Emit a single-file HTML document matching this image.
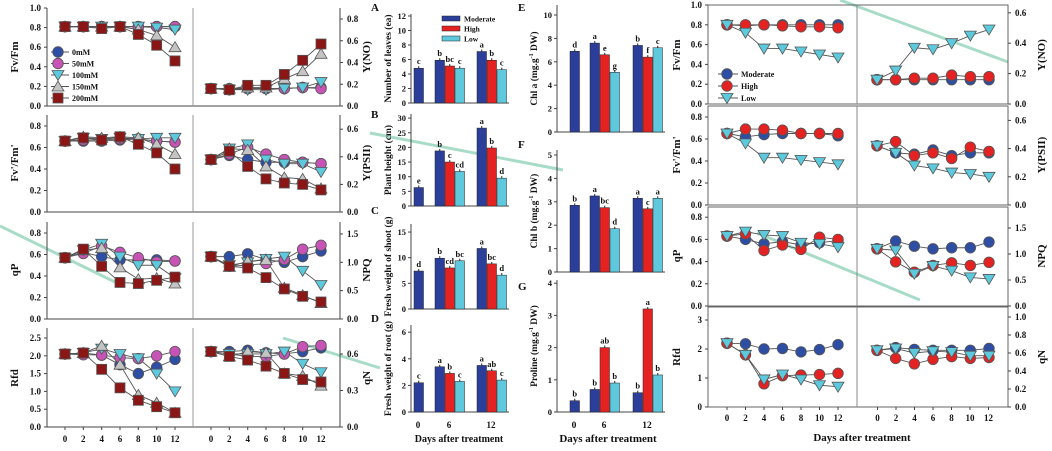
<!DOCTYPE html>
<html><head><meta charset="utf-8"><style>
body{margin:0;background:#fff;}
svg text{font-family:"Liberation Serif",serif;font-weight:bold;fill:#111;}
</style></head><body>
<svg id="s" width="1052" height="446" viewBox="0 0 1052 446" xmlns="http://www.w3.org/2000/svg"></svg>
<script>
var S=document.getElementById('s'),h='';
function T(x,y,t,sz,anc,rot){h+='<text x="'+x+'" y="'+y+'" font-size="'+(sz||9)+'" text-anchor="'+(anc||'middle')+'"'+(rot?' transform="rotate('+rot+' '+x+' '+y+')"':'')+'>'+t+'</text>';}
function L(a,b,c,d,col,w){h+='<line x1="'+a+'" y1="'+b+'" x2="'+c+'" y2="'+d+'" stroke="'+(col||'#444')+'" stroke-width="'+(w||1)+'"/>';}
function mk(t,x,y,col){var st=' fill="'+col+'" stroke="#555" stroke-width="0.8"';
 if(t=='c')h+='<circle cx="'+x+'" cy="'+y+'" r="5.3"'+st+'/>';
 else if(t=='s')h+='<rect x="'+(x-5)+'" y="'+(y-5)+'" width="10" height="10"'+st+'/>';
 else if(t=='d')h+='<polygon points="'+(x-6)+','+(y-4.5)+' '+(x+6)+','+(y-4.5)+' '+x+','+(y+5.5)+'"'+st+'/>';
 else h+='<polygon points="'+(x-6)+','+(y+4.5)+' '+(x+6)+','+(y+4.5)+' '+x+','+(y-5.5)+'"'+st+'/>';}
function chart(x0,x12,y0,k,data,ser){
 data.forEach(function(d,i){var p=d.map(function(v,j){return (x0+(x12-x0)*j/6)+','+(y0-v*k)}).join(' ');
  h+='<polyline points="'+p+'" fill="none" stroke="#555" stroke-width="0.9"/>';});
 data.forEach(function(d,i){d.forEach(function(v,j){mk(ser[i][0],x0+(x12-x0)*j/6,y0-v*k,ser[i][1]);});});}
function ticks(x,y0,k,vals,side,dec){vals.forEach(function(v){var y=y0-v*k;
 if(side=='l'){L(x,y,x-3,y);T(x-6,y+3,v.toFixed(dec),9,'end');}else{L(x,y,x+3,y);T(x+7,y+3,v.toFixed(dec),9,'start');}});}
// watermark lines (behind)
L(0,226,115,282,'#a8dcc8',3);L(370,133,563,170,'#a8dcc8',3);L(840,0,1008,62,'#a8dcc8',3);L(757,233,920,300,'#a8dcc8',3);L(283,338,380,368,'#a8dcc8',3);
// LEFT PANEL
var s5=[['c','#2e4ea3'],['c','#c653b5'],['d','#5cc9dc'],['u','#c4c4c4'],['s','#8a1616']];
var rows=[[8,106],[115,212],[222,319],[328,427]];
rows.forEach(function(r){L(47,r[0],47,r[1]);L(340,r[0],340,r[1]);L(47,r[1],340,r[1]);L(193,r[0],193,r[1],'#999');});
[65,83.3,101.7,120,138.3,156.7,175].forEach(function(x,i){L(x,427,x,430);T(x,442,i*2,9);L(x+146,427,x+146,430);T(x+146,442,i*2,9);});
ticks(47,106,98,[0,.2,.4,.6,.8,1],'l',1);ticks(340,106,108.75,[0,.2,.4,.6,.8],'r',1);
ticks(47,212,107.5,[0,.2,.4,.6,.8],'l',1);ticks(340,212,138,[0,.2,.4,.6],'r',1);
ticks(47,319,107.5,[0,.2,.4,.6,.8],'l',1);ticks(340,319,56.7,[0,.5,1,1.5],'r',1);
ticks(47,427,35.6,[0,.5,1,1.5,2,2.5],'l',1);ticks(340,427,121.7,[0,.3,.6],'r',1);
T(18,57,'Fv/Fm',11,'middle',-90);T(18,163,"Fv'/Fm'",11,'middle',-90);T(18,270,'qP',11,'middle',-90);T(18,378,'Rfd',11,'middle',-90);
T(370,57,'Y(NO)',11,'middle',-90);T(370,163,'Y(PSII)',11,'middle',-90);T(370,270,'NPQ',11,'middle',-90);T(370,378,'qN',11,'middle',-90);
chart(65,175,106,98,[[.81,.81,.81,.81,.81,.81,.81],[.81,.81,.81,.81,.81,.81,.81],[.81,.81,.81,.81,.81,.80,.78],[.81,.81,.81,.81,.78,.72,.60],[.81,.81,.79,.81,.73,.62,.46]],s5);
chart(211,321,106,108.75,[[.16,.15,.16,.16,.16,.17,.17],[.16,.16,.16,.16,.16,.17,.16],[.16,.15,.15,.15,.16,.17,.22],[.16,.16,.17,.17,.25,.32,.48],[.16,.15,.19,.19,.29,.42,.57]],s5);
chart(65,175,212,107.5,[[.66,.66,.66,.67,.68,.66,.65],[.66,.67,.67,.68,.68,.66,.65],[.66,.69,.68,.69,.68,.69,.69],[.66,.70,.69,.70,.69,.63,.54],[.66,.69,.67,.70,.63,.55,.40]],s5);
chart(211,321,212,138,[[.38,.41,.38,.36,.36,.36,.35],[.38,.42,.47,.42,.38,.36,.35],[.38,.46,.49,.38,.35,.35,.29],[.38,.46,.45,.33,.25,.24,.17],[.38,.44,.33,.24,.21,.20,.16]],s5);
chart(65,175,319,107.5,[[.57,.62,.58,.55,.55,.55,.54],[.57,.61,.68,.62,.57,.53,.54],[.57,.64,.70,.58,.50,.50,.38],[.57,.64,.66,.48,.37,.38,.33],[.57,.65,.49,.34,.33,.36,.39]],s5);
chart(211,321,319,56.7,[[1.1,1.1,1.15,1.05,1.0,1.1,1.2],[1.1,.93,.95,.98,1.05,1.23,1.3],[1.1,.95,1.0,1.06,1.1,.85,.6],[1.1,.92,1.02,1.04,.55,.42,.28],[1.1,.93,.9,.73,.53,.4,.3]],s5);
chart(65,175,427,35.6,[[2.05,2.08,2.02,1.75,1.5,1.68,1.9],[2.05,2.03,2.02,1.95,1.92,2.0,2.12],[2.05,2.08,2.2,2.05,1.93,1.5,1.0],[2.05,2.08,2.28,1.75,.9,.68,.4],[2.05,2.08,1.62,1.1,.75,.57,.4]],s5);
chart(211,321,427,121.7,[[.62,.62,.63,.61,.6,.62,.65],[.62,.6,.58,.58,.6,.66,.67],[.62,.6,.6,.6,.62,.52,.45],[.62,.58,.62,.61,.44,.42,.34],[.62,.58,.55,.5,.44,.39,.37]],s5);
['0mM','50mM','100mM','150mM','200mM'].forEach(function(n,i){var y=52+i*11.5;L(51,y,69,y,'#555');mk(s5[i][0],58,y,s5[i][1]);T(72,y+3,n,8,'start');});
// BAR CHARTS
var C=['#2b3f9a','#e42222','#5ec8dc'];
function bars(ax,y0,top,k,tv,dec,xs,vals,lets,lab,title,tl){
 L(ax,top,ax,y0);L(ax,y0,ax+(xs[xs.length-1]+12-ax),y0);
 tv.forEach(function(v){var y=y0-v*k;L(ax,y,ax-3,y);T(ax-5,y+3,v,8.5,'end');});
 var ci=[0,0,1,2,0,1,2];
 xs.forEach(function(x,i){var hh=vals[i]*k;h+='<rect x="'+x+'" y="'+(y0-hh)+'" width="9.5" height="'+hh+'" fill="'+C[ci[i]]+'" stroke="#222" stroke-width="0.5"/>';
  L(x+4.75,y0-hh,x+4.75,y0-hh-2,'#222');T(x+4.75,y0-hh-4,lets[i],8.5);});
 T(ax-20,(y0+top)/2,lab,9.5,'middle',-90);T(tl[0],tl[1],title,11,'start');}
var xa=[414,435,445,455,477,487,497];
bars(411,103,14,7.25,[0,2,4,6,8,10,12],0,xa,[4.8,5.9,5.1,4.8,7.1,5.9,4.6],['c','b','bc','c','a','b','c'],'Number of leaves (ea)','A',[371,11]);
bars(411,206,114,2.93,[0,5,10,15,20,25,30],0,xa,[6.3,18.8,15,11.8,26.6,19.8,9.5],['e','b','c','cd','a','b','d'],'Plant height (cm)','B',[371,118]);
bars(411,309,224,5.13,[0,5,10,15],0,xa,[7.4,9.9,8.0,9.4,11.8,8.8,6.6],['d','b','cd','bc','a','bc','d'],'Fresh weight of shoot (g)','C',[371,214]);
bars(411,412,325,13.3,[0,2,4,6],0,xa,[2.2,3.4,2.9,2.3,3.5,3.1,2.4],['c','a','b','c','a','ab','c'],'Fresh weight of root (g)','D',[371,322]);
[[418,'0'],[449,'6'],[491,'12']].forEach(function(a){T(a[0],428,a[1],9);});T(459,442,'Days after treatment',10);
var xe=[570,590,600,610,633,643,653];
bars(557,132,5,11.7,[0,2,4,6,8,10],0,xe,[6.9,7.6,6.6,5.1,7.4,6.4,7.2],['d','a','e','g','b','f','c'],'Chl a (mg.g<tspan font-size="6" dy="-4">-1</tspan><tspan dy="4"> DW)</tspan>','E',[518,11]);
bars(557,272,150,23.4,[0,1,2,3,4,5],0,xe,[2.85,3.25,2.75,1.85,3.15,2.7,3.15],['b','a','bc','d','a','c','a'],'Chl b (mg.g<tspan font-size="6" dy="-4">-1</tspan><tspan dy="4"> DW)</tspan>','F',[518,148]);
bars(557,412,280,32.2,[0,1,2,3,4],0,xe,[.35,.7,2.0,.9,.6,3.2,1.15],['b','b','ab','b','b','a','b'],'Proline (mg.g<tspan font-size="6" dy="-4">-1</tspan><tspan dy="4"> DW)</tspan>','G',[518,290]);
[[574,'0'],[604,'6'],[647,'12']].forEach(function(a){T(a[0],428,a[1],9.5);});T(608,442,'Days after treatment',11);
['Moderate','High','Low'].forEach(function(n,i){var y=19+i*10;h+='<rect x="442" y="'+(y-3)+'" width="18" height="5" fill="'+C[i]+'" stroke="#222" stroke-width="0.5"/>';T(464,y+2.5,n,7.5,'start');});
// RIGHT PANEL
var s3=[['c','#2e4ea3'],['c','#e42222'],['d','#5cc9dc']];
[[5,104],[106,205],[207,306],[307,407]].forEach(function(r){h+='<rect x="708" y="'+r[0]+'" width="300" height="'+(r[1]-r[0])+'" fill="none" stroke="#666" stroke-width="1"/>';L(857,r[0],857,r[1],'#888');});
[727,745.5,764,782.5,801,819.5,838].forEach(function(x,i){L(x,407,x,410);T(x,421,i*2,9);L(x+150.5,407,x+150.5,410);T(x+150.5,421,i*2,9);});
T(862,441,'Days after treatment',11);
ticks(708,104,99,[0,.2,.4,.6,.8,1],'l',1);ticks(1008,104,152,[0,.2,.4,.6],'r',1);
ticks(708,205,110,[0,.2,.4,.6,.8],'l',1);ticks(1008,205,141,[0,.2,.4,.6],'r',1);
ticks(708,306,111,[0,.2,.4,.6,.8],'l',1);ticks(1008,306,52,[0,.5,1,1.5],'r',1);
ticks(708,407,29,[0,1,2,3],'l',0);ticks(1008,407,90,[0,.2,.4,.6,.8,1],'r',1);
T(680,55,'Fv/Fm',11,'middle',-90);T(680,155,"Fv'/Fm'",11,'middle',-90);T(680,256,'qP',11,'middle',-90);T(680,357,'Rfd',11,'middle',-90);
T(1045,55,'Y(NO)',11,'middle',-90);T(1045,155,'Y(PSII)',11,'middle',-90);T(1045,256,'NPQ',11,'middle',-90);T(1045,357,'qN',11,'middle',-90);
chart(727,838,104,99,[[.8,.79,.8,.8,.8,.8,.8],[.8,.8,.8,.79,.78,.78,.77],[.8,.72,.56,.56,.53,.5,.47]],s3);
chart(877,989,104,152,[[.16,.16,.16,.16,.16,.16,.16],[.16,.16,.17,.17,.19,.18,.18],[.16,.22,.37,.36,.4,.45,.49]],s3);
chart(727,838,205,110,[[.65,.62,.64,.65,.65,.65,.63],[.65,.69,.69,.68,.65,.65,.65],[.65,.56,.43,.43,.41,.39,.37]],s3);
chart(877,989,205,141,[[.42,.37,.36,.39,.35,.37,.37],[.42,.45,.35,.37,.33,.41,.38],[.42,.37,.28,.26,.23,.22,.2]],s3);
chart(727,838,306,111,[[.63,.6,.56,.58,.55,.57,.59],[.63,.65,.5,.55,.51,.62,.6],[.63,.67,.64,.63,.57,.56,.53]],s3);
chart(877,989,306,52,[[1.1,1.25,1.15,1.1,1.12,1.12,1.23],[1.1,.85,.65,.78,.83,.78,.84],[1.1,1.07,.62,.77,.68,.55,.52]],s3);
chart(727,838,407,29,[[2.2,2.18,2.0,2.02,1.9,1.98,2.15],[2.2,1.8,.8,1.08,1.1,1.12,1.16],[2.2,1.8,.95,1.12,.95,.75,.7]],s3);
chart(877,989,407,90,[[.63,.66,.64,.63,.63,.63,.65],[.63,.54,.48,.53,.56,.54,.55],[.63,.65,.6,.62,.61,.57,.57]],s3);
['Moderate','High','Low'].forEach(function(n,i){var y=74+i*12;L(718,y,738,y,'#555');mk(s3[i][0],727,y,s3[i][1]);T(741,y+3,n,8,'start');});
S.innerHTML=h;
</script>
</body></html>
